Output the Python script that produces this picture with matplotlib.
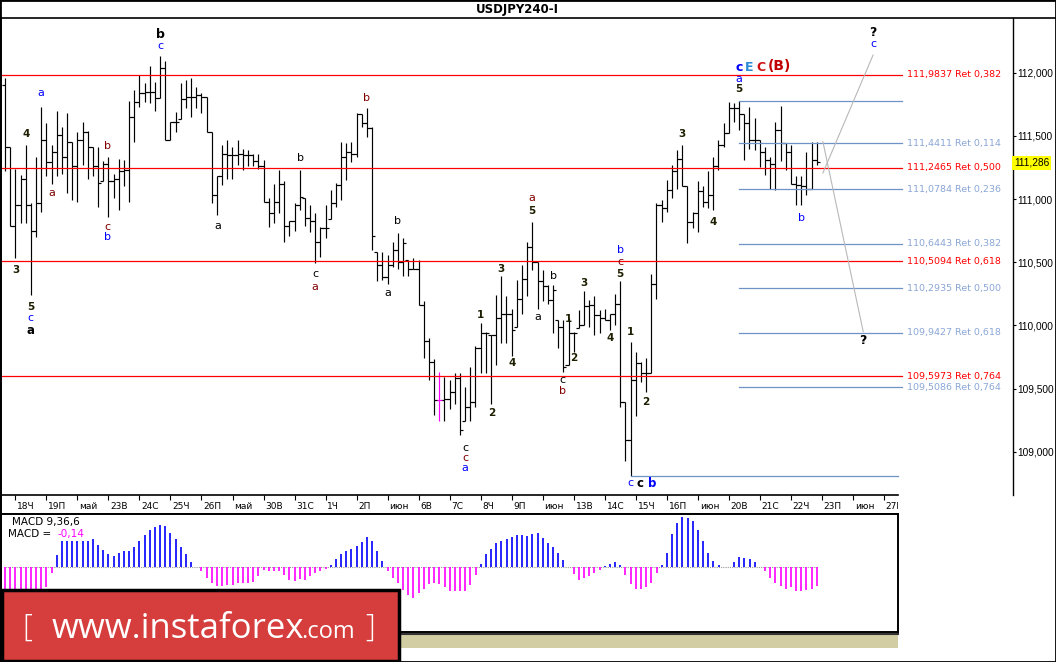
import numpy as np
import matplotlib.pyplot as plt
from matplotlib.patches import Rectangle
from matplotlib.lines import Line2D
import matplotlib.transforms as mtransforms

W, H = 1056, 662

# 4H bars (open = previous close)
highs = [111.96, 111.41, 111.24, 111.19, 111.43, 110.97, 111.33, 111.73, 111.60, 111.43,
         111.70, 111.57, 111.68, 111.45, 111.53, 111.61, 111.54, 111.41, 111.41, 111.30,
         111.33, 111.20, 111.32, 111.31, 111.78, 111.86, 111.98, 111.92, 112.05, 111.93,
         112.13, 112.09, 111.61, 111.69, 111.92, 111.94, 111.96, 111.89, 111.84, 111.81,
         111.53, 111.18, 111.43, 111.47, 111.41, 111.47, 111.40, 111.39, 111.36, 111.36,
         111.31, 111.01, 111.12, 111.23, 111.14, 110.83, 110.97, 111.23, 111.01, 110.95,
         110.89, 110.78, 110.95, 111.07, 111.13, 111.45, 111.44, 111.45, 111.68, 111.67,
         111.72, 111.57, 110.58, 110.58, 110.56, 110.66, 110.73, 110.69, 110.52, 110.53,
         110.52, 110.19, 109.90, 109.73, 109.63, 109.59, 109.57, 109.62, 109.62, 109.51,
         109.67, 109.84, 110.02, 109.95, 109.92, 110.24, 110.39, 110.23, 110.13, 110.36,
         110.48, 110.66, 110.82, 110.50, 110.44, 110.32, 110.32, 110.04, 110.04, 110.06,
         109.95, 110.12, 110.27, 110.20, 110.23, 110.12, 110.13, 110.09, 110.25, 110.35,
         109.39, 109.87, 109.79, 109.71, 109.74, 110.41, 110.97, 110.99, 111.15, 111.27,
         111.39, 111.43, 111.10, 110.90, 111.14, 111.10, 111.22, 111.33, 111.47, 111.60,
         111.77, 111.76, 111.78, 111.67, 111.73, 111.64, 111.47, 111.41, 111.33, 111.61,
         111.74, 111.44, 111.43, 111.18, 111.18, 111.37, 111.45, 111.45]
lows = [111.22, 110.79, 110.53, 110.81, 110.81, 110.24, 110.70, 110.90, 111.18, 111.12,
        111.18, 111.20, 111.05, 110.99, 110.98, 111.27, 111.16, 111.18, 110.94, 111.14,
        110.86, 111.01, 110.91, 111.10, 110.98, 111.45, 111.73, 111.77, 111.76, 111.70,
        111.80, 111.47, 111.47, 111.53, 111.63, 111.72, 111.65, 111.72, 111.68, 111.53,
        110.97, 110.87, 111.11, 111.16, 111.16, 111.27, 111.23, 111.26, 111.26, 111.24,
        110.98, 110.78, 110.81, 110.89, 110.66, 110.71, 110.75, 110.91, 110.79, 110.74,
        110.49, 110.54, 110.69, 110.84, 110.94, 110.99, 111.15, 111.29, 111.33, 111.57,
        111.49, 110.60, 110.35, 110.36, 110.33, 110.46, 110.45, 110.39, 110.39, 110.45,
        110.16, 109.74, 109.57, 109.29, 109.24, 109.24, 109.34, 109.38, 109.13, 109.24,
        109.24, 109.35, 109.62, 109.62, 109.38, 109.69, 109.86, 109.86, 109.76, 109.99,
        110.09, 110.23, 110.44, 110.13, 110.19, 110.17, 109.94, 109.82, 109.63, 109.69,
        109.79, 109.98, 110.00, 109.99, 109.92, 109.94, 110.04, 109.96, 110.00, 109.35,
        108.93, 108.81, 109.28, 109.55, 109.47, 109.62, 110.21, 110.82, 110.90, 111.01,
        111.08, 111.10, 110.65, 110.77, 110.74, 110.94, 110.93, 110.91, 111.23, 111.41,
        111.52, 111.61, 111.55, 111.31, 111.40, 111.39, 111.25, 111.19, 111.08, 111.07,
        111.30, 111.23, 111.12, 110.95, 110.95, 111.03, 111.08, 111.27]
closes = [111.41, 110.79, 110.95, 111.16, 110.95, 110.75, 110.97, 111.47, 111.29, 111.37,
          111.51, 111.33, 111.45, 111.26, 111.47, 111.53, 111.41, 111.26, 111.13, 111.28,
          111.14, 111.16, 111.22, 111.23, 111.65, 111.77, 111.84, 111.85, 111.85, 111.80,
          112.04, 111.47, 111.61, 111.61, 111.79, 111.81, 111.81, 111.82, 111.81, 111.53,
          111.03, 111.18, 111.36, 111.35, 111.35, 111.36, 111.35, 111.35, 111.30, 111.26,
          110.98, 110.89, 110.98, 111.12, 110.79, 110.83, 110.95, 111.02, 110.85, 110.83,
          110.66, 110.77, 110.77, 110.97, 111.11, 111.33, 111.37, 111.36, 111.67, 111.60,
          111.56, 110.71, 110.48, 110.38, 110.48, 110.60, 110.50, 110.65, 110.45, 110.45,
          110.16, 109.88, 109.71, 109.41, 109.41, 109.42, 109.47, 109.58, 109.17, 109.35,
          109.39, 109.82, 109.94, 109.94, 109.92, 110.06, 110.09, 110.09, 109.96, 110.21,
          110.37, 110.62, 110.50, 110.35, 110.31, 110.20, 110.28, 109.99, 109.67, 109.94,
          109.94, 110.00, 110.15, 110.16, 110.08, 110.06, 110.04, 110.09, 110.17, 109.39,
          109.09, 109.57, 109.70, 109.62, 109.62, 110.33, 110.95, 110.93, 111.07, 111.22,
          111.32, 111.10, 110.82, 110.89, 111.06, 110.98, 111.03, 111.26, 111.43, 111.52,
          111.72, 111.72, 111.67, 111.60, 111.47, 111.47, 111.37, 111.31, 111.28, 111.55,
          111.44, 111.37, 111.12, 111.11, 111.10, 111.08, 111.31, 111.29]
first_open = 111.90
magenta_bar = 84

macd = [-0.21, -0.22, -0.225, -0.225, -0.215, -0.20, -0.19, -0.175, -0.145, -0.04,
        0.09, 0.20, 0.20, 0.20, 0.20, 0.20, 0.20, 0.21, 0.17, 0.13,
        0.10, 0.085, 0.105, 0.12, 0.12, 0.155, 0.20, 0.24, 0.28, 0.305,
        0.32, 0.31, 0.26, 0.21, 0.15, 0.10, 0.04, 0.005, -0.03, -0.08,
        -0.115, -0.14, -0.14, -0.13, -0.13, -0.12, -0.12, -0.12, -0.11, -0.065,
        -0.02, -0.03, -0.03, -0.03, -0.06, -0.095, -0.10, -0.09, -0.095, -0.065,
        -0.045, -0.03, -0.01, 0.02, 0.06, 0.10, 0.12, 0.135, 0.16, 0.19,
        0.23, 0.20, 0.125, 0.05, -0.025, -0.08, -0.12, -0.17, -0.21, -0.23,
        -0.195, -0.16, -0.125, -0.115, -0.125, -0.15, -0.175, -0.18, -0.18, -0.175,
        -0.13, -0.06, 0.025, 0.10, 0.135, 0.185, 0.20, 0.21, 0.23, 0.24,
        0.24, 0.235, 0.25, 0.255, 0.22, 0.18, 0.155, 0.11, 0.055, 0.0,
        -0.05, -0.095, -0.08, -0.065, -0.04, -0.02, 0.01, 0.025, 0.04, 0.02,
        -0.06, -0.125, -0.16, -0.16, -0.15, -0.115, -0.04, 0.02, 0.11, 0.25,
        0.335, 0.38, 0.37, 0.35, 0.28, 0.20, 0.105, 0.05, 0.02, 0.005,
        0.005, 0.04, 0.08, 0.07, 0.06, 0.04, 0.005, -0.03, -0.08, -0.12,
        -0.14, -0.16, -0.15, -0.175, -0.175, -0.17, -0.16, -0.14]

date_labels = ['18Ч', '19П', 'май', '23В', '24С', '25Ч', '26П', 'май', '30В', '31С',
               '1Ч', '2П', 'июн', '6В', '7С', '8Ч', '9П', 'июн', '13В', '14С',
               '15Ч', '16П', 'июн', '20В', '21С', '22Ч', '23П', 'июн', '27В']
first_date_bar = 2
bars_per_day = 6

price_ticks = [109.0, 109.5, 110.0, 110.5, 111.0, 111.5, 112.0]
last_price = 111.286

red_levels = [111.9837, 111.2465, 110.5094, 109.5973]
red_ratios = ['0,382', '0,500', '0,618', '0,764']
blue_levels = [111.4411, 111.0784, 110.6443, 110.2935, 109.9427, 109.5086]
blue_ratios = ['0,114', '0,236', '0,382', '0,500', '0,618', '0,764']
fib_high, fib_high_bar = 111.78, 142
fib_low, fib_low_bar = 108.807, 121

proj_up_x, proj_up_y = [158.2, 167.9], [111.206, 112.14]
proj_dn_x, proj_dn_y = [158.2, 166.0], [111.454, 109.95]

DK, DR, BL = '#1e1e00', '#800000', '#0000ff'
waves = [
    (30.0, 112.30, 'b', 'black', 9, 'bold'), (30.0, 112.21, 'c', BL, 8, 'normal'),
    (7.0, 111.84, 'a', BL, 8, 'normal'), (4.1, 111.515, '4', DK, 7.5, 'bold'),
    (19.9, 111.42, 'b', DR, 8, 'normal'), (9.1, 111.05, 'a', DR, 8, 'normal'),
    (19.9, 110.78, 'c', DR, 8, 'normal'), (19.9, 110.70, 'b', BL, 8, 'normal'),
    (2.1, 110.44, '3', DK, 7.5, 'bold'), (5.0, 110.145, '5', DK, 7.5, 'bold'),
    (5.0, 110.06, 'c', BL, 8, 'normal'), (5.0, 109.96, 'a', 'black', 8.5, 'bold'),
    (57.1, 111.325, 'b', 'black', 8, 'normal'), (41.2, 110.79, 'a', 'black', 8, 'normal'),
    (60.0, 110.41, 'c', 'black', 8, 'normal'), (60.0, 110.30, 'a', DR, 8, 'normal'),
    (70.0, 111.80, 'b', DR, 8, 'normal'), (76.0, 110.83, 'b', 'black', 8, 'normal'),
    (74.1, 110.26, 'a', 'black', 8, 'normal'),
    (89.0, 109.03, 'c', 'black', 8, 'normal'), (89.0, 108.95, 'c', DR, 8, 'normal'),
    (89.0, 108.87, 'a', BL, 8, 'normal'),
    (91.9, 110.08, '1', DK, 7.5, 'bold'), (94.2, 109.31, '2', DK, 7.5, 'bold'),
    (95.9, 110.45, '3', DK, 7.5, 'bold'), (98.1, 109.70, '4', DK, 7.5, 'bold'),
    (101.9, 110.905, '5', DK, 7.5, 'bold'), (101.9, 111.01, 'a', DR, 8, 'normal'),
    (103.1, 110.07, 'a', 'black', 8, 'normal'), (106.0, 110.39, 'b', 'black', 8, 'normal'),
    (108.9, 110.05, '1', DK, 7.5, 'bold'), (110.1, 109.74, '2', DK, 7.5, 'bold'),
    (107.9, 109.57, 'c', 'black', 8, 'normal'), (107.9, 109.48, 'b', DR, 8, 'normal'),
    (112.0, 110.335, '3', DK, 7.5, 'bold'), (117.0, 109.90, '4', DK, 7.5, 'bold'),
    (119.0, 110.41, '5', DK, 7.5, 'bold'), (119.0, 110.50, 'c', DR, 8, 'normal'),
    (119.0, 110.60, 'b', BL, 8, 'normal'),
    (120.9, 109.95, '1', DK, 7.5, 'bold'), (124.0, 109.39, '2', DK, 7.5, 'bold'),
    (120.9, 108.75, 'c', BL, 8, 'normal'), (122.8, 108.75, 'c', 'black', 8.5, 'bold'),
    (125.1, 108.75, 'b', BL, 8.5, 'bold'),
    (131.0, 111.515, '3', DK, 7.5, 'bold'), (136.9, 110.82, '4', DK, 7.5, 'bold'),
    (142.0, 111.87, '5', DK, 7.5, 'bold'), (142.0, 111.95, 'a', BL, 8, 'normal'),
    (142.0, 112.04, 'c', BL, 9, 'bold'), (143.9, 112.04, 'E', '#2a8ad8', 9, 'bold'),
    (146.2, 112.04, 'C', '#d01010', 9, 'bold'), (149.7, 112.05, '(B)', '#c00000', 10, 'bold'),
    (154.0, 110.85, 'b', BL, 8, 'normal'),
    (167.9, 112.32, '?', 'black', 9, 'bold'), (167.9, 112.23, 'c', BL, 8, 'normal'),
    (166.0, 109.88, '?', 'black', 9, 'bold'),
]

plt.rcParams['font.family'] = ['DejaVu Sans']

n = len(closes)
x = np.arange(n)
opens = np.clip([first_open] + closes[:-1], lows, highs)
bar_colors = ['#ff00ff' if i == magenta_bar else 'black' for i in range(n)]

# bar index -> pixel: 5 + 5.17*i
x_left = -0.774
fig = plt.figure(figsize=(W / 100, H / 100), dpi=100)
fig.patch.set_facecolor('white')

# price panel
ax = fig.add_axes([1 / W, 1 - 495 / H, 1012 / W, 477 / H])
ax.set_xlim(x_left, 194.97)
ax.set_ylim(108.657, 112.4335)
ax.vlines(x, lows, highs, colors=bar_colors, lw=0.85)
ax.hlines(opens, x - 0.6, x, colors=bar_colors, lw=0.85)
ax.hlines(closes, x, x + 0.6, colors=bar_colors, lw=0.85)

end_x = 173.5
for lvl, r in zip(red_levels, red_ratios):
    ax.plot([x_left, end_x], [lvl, lvl], color='#ff0000', lw=0.9)
    ax.text(174.5, lvl, f"{lvl:.4f}".replace('.', ',') + ' Ret ' + r,
            color='#ff0000', fontsize=6.8, va='center', ha='left')
ax.plot([fib_high_bar, end_x], [fib_high, fib_high], color='#6f93c9', lw=0.9)
for lvl, r in zip(blue_levels, blue_ratios):
    ax.plot([fib_high_bar, end_x], [lvl, lvl], color='#6f93c9', lw=0.9)
    ax.text(174.5, lvl, f"{lvl:.4f}".replace('.', ',') + ' Ret ' + r,
            color='#8aa6d6', fontsize=6.8, va='center', ha='left')
ax.plot([fib_low_bar, 172.7], [fib_low, fib_low], color='#6f93c9', lw=0.9)

ax.plot(proj_up_x, proj_up_y, color='#b8b8b8', lw=0.8)
ax.plot(proj_dn_x, proj_dn_y, color='#b8b8b8', lw=0.8)

for bx, by, t, c, fs, fw in waves:
    ax.text(bx, by, t, color=c, fontsize=fs, fontweight=fw, ha='center', va='center')

ax.set_xticks([])
ax.yaxis.tick_right()
ax.set_yticks(price_ticks)
ax.set_yticklabels([f"{v:.3f}".replace('.', ',') for v in price_ticks],
                   family='Liberation Sans')
ax.tick_params(axis='y', direction='out', length=2.5, width=0.8, labelsize=7.3, pad=0.5)
for s in ['top', 'bottom']:
    ax.spines[s].set_visible(False)
ax.spines['left'].set_linewidth(1.2)
ax.spines['right'].set_linewidth(1.0)

trans = mtransforms.blended_transform_factory(ax.transAxes, ax.transData)
ax.text(1.001, last_price, f"{last_price:.3f}".replace('.', ','), transform=trans,
        fontsize=7.3, family='Liberation Sans', ha='left', va='center',
        bbox=dict(boxstyle='square,pad=0.2', fc='#ffff00', ec='none'))

# date row
dax = fig.add_axes([1 / W, 1 - 514 / H, 897 / W, 19 / H])
dax.set_xlim(x_left, 172.7)
dax.set_ylim(0, 1)
tick_pos = first_date_bar + bars_per_day * np.arange(len(date_labels))
dax.vlines(tick_pos, 0.72, 1.0, color='black', lw=0.8)
for p, lab in zip(tick_pos, date_labels):
    dax.text(p + 0.35, 0.42, lab, fontsize=6.5, ha='left', va='center', clip_on=True)
dax.set_xticks([])
dax.set_yticks([])
dax.spines['right'].set_visible(False)
for s in ['top', 'bottom', 'left']:
    dax.spines[s].set_linewidth(1.2)

# MACD panel
mac = fig.add_axes([1 / W, 1 - 632 / H, 897 / W, 118 / H])
mac.set_xlim(x_left, 172.7)
mac.set_ylim(-0.485, 0.40)
mvals = np.array(macd)
mac.plot([0, n - 1], [0, 0], color='#999999', lw=0.8, ls=(0, (1, 1)))
mac.vlines(x, 0, mvals, colors=np.where(mvals >= 0, '#0000ff', '#ff00ff'), lw=1.2)
mac.set_xticks([])
mac.set_yticks([])
for s in mac.spines.values():
    s.set_linewidth(1.4)
mac.text(0.012, 0.93, 'MACD 9,36,6', transform=mac.transAxes, fontsize=7.5, va='center')
mac.text(0.008, 0.83, 'MACD =', transform=mac.transAxes, fontsize=7.5, va='center')
mac.text(0.063, 0.83, '-0,14', transform=mac.transAxes, fontsize=7.5, va='center',
         color='#ff00ff')

# strip under MACD
fig.add_artist(Rectangle((0, 1 - 648 / H), 898 / W, 14 / H, transform=fig.transFigure,
                         fc='#d3cda3', ec='none', zorder=1))
fig.add_artist(Line2D([0, 898 / W], [1 - 633.5 / H] * 2, color='#333333', lw=1.5,
                      zorder=1))

# title
fig.add_artist(Line2D([0, 1], [1 - 18 / H] * 2, color='black', lw=1.2))
fig.text(517 / W, 1 - 10 / H, 'USDJPY240-I', ha='center', va='center',
         fontsize=8.5, fontweight='bold')

# logo
fig.add_artist(Rectangle((1.5 / W, 1.5 / H), 397 / W, 71 / H, transform=fig.transFigure,
                         fc='#d63d3d', ec='black', lw=2.5, zorder=10))
logo_kw = dict(color='white', family='Open Sans', zorder=11)
fig.text(27 / W, 1 - 628 / H, '[', fontsize=22, ha='center', va='center',
         fontweight='light', **logo_kw)
fig.text(52 / W, 1 - 638 / H, 'www.instaforex', fontsize=25, ha='left',
         va='baseline', **logo_kw)
fig.text(301 / W, 1 - 638 / H, '.com', fontsize=17, ha='left', va='baseline', **logo_kw)
fig.text(370 / W, 1 - 628 / H, ']', fontsize=22, ha='center', va='center',
         fontweight='light', **logo_kw)

# outer frame
fig.add_artist(Rectangle((0, 0), 1, 1, transform=fig.transFigure, fill=False,
                         ec='black', lw=2, zorder=12))

fig.savefig('out.png', dpi=100)
